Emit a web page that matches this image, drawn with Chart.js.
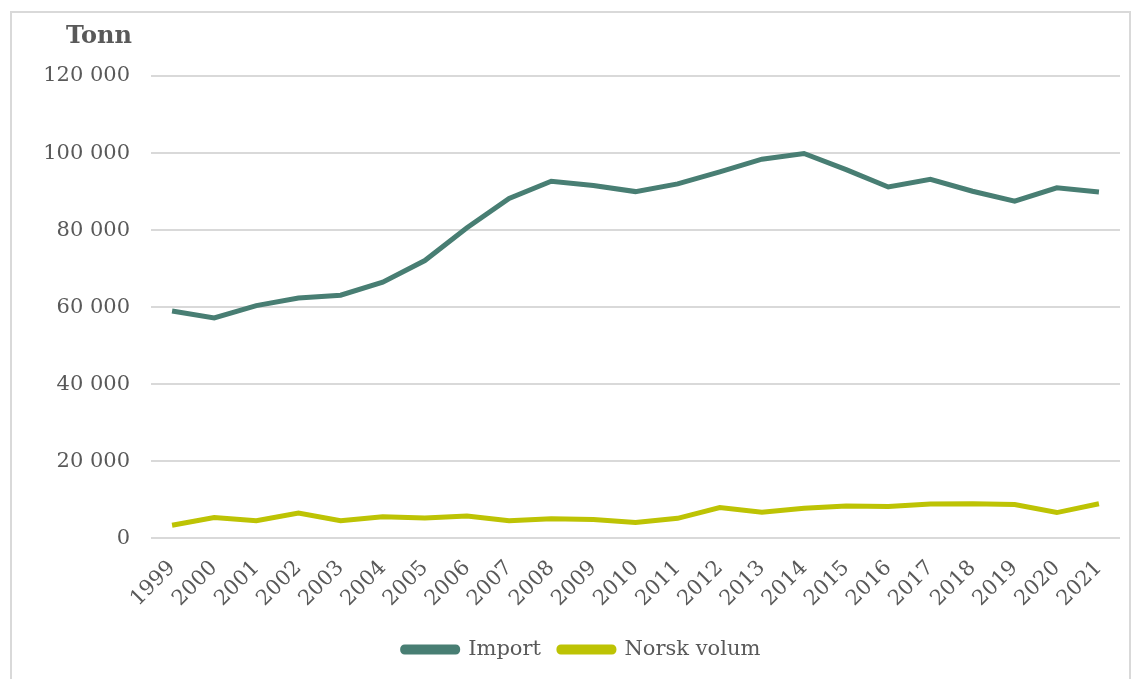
<!DOCTYPE html>
<html>
<head>
<meta charset="utf-8">
<script src="https://cdn.jsdelivr.net/npm/chart.js@4"></script>
<style>
  html, body { margin: 0; padding: 0; background: #fff; overflow: hidden; }
  #wrap { position: relative; width: 1137px; height: 679px; }
  #frame { position: absolute; left: 10px; top: 11px; width: 1121px; height: 700px;
           border: 2px solid #d9d9d9; box-sizing: border-box; pointer-events: none; }
  canvas { position: absolute; left: 0; top: 0; }
</style>
</head>
<body>
<div id="wrap">
  <canvas id="chart" width="1137" height="679"></canvas>
  <div id="frame"></div>
</div>
<script>
const years = ['1999', '2000', '2001', '2002', '2003', '2004', '2005', '2006', '2007', '2008', '2009', '2010',
               '2011', '2012', '2013', '2014', '2015', '2016', '2017', '2018', '2019', '2020', '2021'];
const importValues = [59000, 57200, 60400, 62400, 63100, 66500, 72100, 80600, 88200, 92700, 91600, 90000,
                      92000, 95100, 98400, 99900, 95700, 91200, 93200, 90100, 87500, 91000, 89900];
const norskValues = [3400, 5400, 4600, 6600, 4600, 5600, 5300, 5800, 4600, 5100, 4900, 4100,
                     5200, 8000, 6800, 7800, 8400, 8300, 8900, 9000, 8800, 6700, 9000];
const unitLabel = 'Tonn';

const textColor = '#595959';
const fontFamily = '"DejaVu Serif", Georgia, serif';

// draws the unit label above the y tick labels
const unitTitle = {
    id: 'unitTitle',
    afterDraw(chart) {
        const ctx = chart.ctx;
        const y = chart.scales.y;
        ctx.save();
        ctx.font = 'bold 24px ' + fontFamily;
        ctx.fillStyle = textColor;
        ctx.textAlign = 'right';
        ctx.textBaseline = 'alphabetic';
        ctx.fillText(unitLabel, y.right - 19, 43);
        ctx.restore();
    }
};

const ctx = document.getElementById('chart').getContext('2d');
new Chart(ctx, {
    type: 'line',
    data: {
        labels: years,
        datasets: [{
            label: 'Import',
            data: importValues,
            borderColor: '#487e73',
            backgroundColor: '#487e73',
            borderWidth: 5,
            pointRadius: 0,
            tension: 0
        }, {
            label: 'Norsk volum',
            data: norskValues,
            borderColor: '#bdc304',
            backgroundColor: '#bdc304',
            borderWidth: 5,
            pointRadius: 0,
            tension: 0
        }]
    },
    options: {
        responsive: false,
        animation: false,
        layout: { padding: { left: 43, right: 17, top: 76, bottom: 9 } },
        plugins: {
            legend: {
                position: 'bottom',
                labels: {
                    color: textColor,
                    font: { family: fontFamily, size: 21 },
                    boxWidth: 55,
                    boxHeight: 5,
                    useBorderRadius: true,
                    borderRadius: 2,
                    padding: 18
                }
            },
            tooltip: { enabled: false }
        },
        scales: {
            x: {
                offset: true,
                grid: { display: false },
                border: { display: false },
                ticks: {
                    color: textColor,
                    font: { family: fontFamily, size: 21 },
                    maxRotation: 45,
                    minRotation: 45,
                    padding: 9.5,
                    autoSkip: false
                }
            },
            y: {
                min: 0,
                max: 120000,
                afterFit(scale) { scale.width = 108; },
                grid: { color: '#d9d9d9', lineWidth: 2, drawTicks: false },
                border: { display: false },
                ticks: {
                    stepSize: 20000,
                    color: textColor,
                    font: { family: fontFamily, size: 21 },
                    padding: 21,
                    callback: v => v.toLocaleString('en-US').replace(/,/g, ' ')
                }
            }
        }
    },
    plugins: [unitTitle]
});
</script>
</body>
</html>
